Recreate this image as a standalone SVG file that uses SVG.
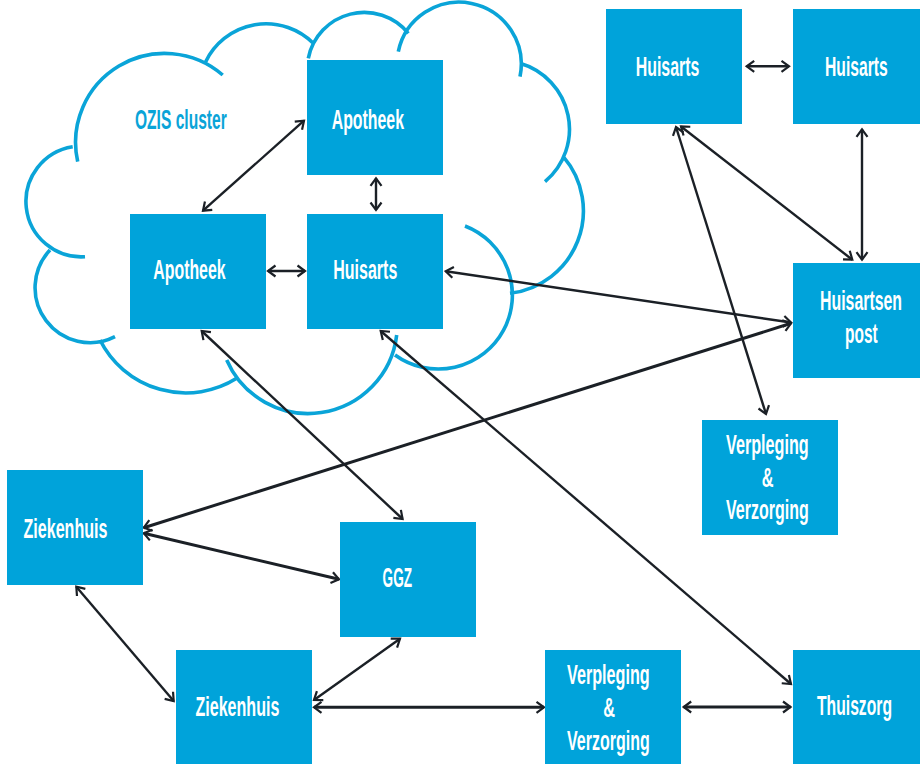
<svg xmlns="http://www.w3.org/2000/svg" width="920" height="764" viewBox="0 0 920 764">
<style>
.box{fill:#00a3da}
.lbl{font-family:"Liberation Sans",Arial,sans-serif;font-weight:bold;font-size:28px;fill:#ffffff}
.cl{fill:none;stroke:#0aa4d8;stroke-width:3.6;stroke-linecap:butt}
.cn{fill:none;stroke:#1b2026;stroke-width:2.4;marker-start:url(#ah);marker-end:url(#ah)}
.tk{stroke-width:3}
</style>
<defs>
<marker id="ah" markerUnits="userSpaceOnUse" viewBox="-10 -8 14 16" markerWidth="14" markerHeight="16" refX="0" refY="0" orient="auto-start-reverse" overflow="visible">
<path d="M-7.5,-5.5 L0,0 L-7.5,5.5" fill="none" stroke="#1b2026" stroke-width="2.2"/>
</marker>
</defs>
<rect width="920" height="764" fill="#ffffff"/>
<g id="cloud">
<path class="cl" d="M77.7,161.7 A89,89 0 0 1 222.7,75 M205.7,61.7 A67,67 0 0 1 313.3,43.3 M308.3,58.3 A57,57 0 0 1 408.3,33.3 M398.3,51.7 A62,62 0 0 1 520,76.7 M520,63.3 A68.6,68.6 0 0 1 545,181.7 M563.3,156.7 A83,83 0 0 1 510,293.3 M465,226 A74,74 0 1 1 395,355 M396.7,335 A89,89 0 0 1 226.7,360 M236.7,378.3 A96,96 0 0 1 100,340 M50,250 A55,55 0 0 0 115,336.7 M72.7,146.7 A55.4,55.4 0 0 0 85,256.7"/>
<text x="135" y="129" textLength="91.7" lengthAdjust="spacingAndGlyphs" class="lbl" style="fill:#0aa4d8">OZIS cluster</text>
</g>
<g id="connectors">
<line class="cn" x1="304" y1="120.7" x2="203" y2="210.7"/>
<line class="cn" x1="376" y1="178.3" x2="376" y2="210"/>
<line class="cn" x1="268" y1="271" x2="305" y2="271"/>
<line class="cn" x1="445.7" y1="271.3" x2="791" y2="322.5"/>
<line class="cn tk" x1="143.8" y1="527.7" x2="791" y2="323.3"/>
<line class="cn" x1="201.7" y1="331" x2="402.6" y2="519"/>
<line class="cn" x1="380.7" y1="331" x2="791" y2="684"/>
<line class="cn" x1="746.7" y1="66.3" x2="789" y2="66.3"/>
<line class="cn" x1="862" y1="129.3" x2="862" y2="259.7"/>
<line class="cn" x1="681" y1="126.5" x2="852.3" y2="259.7"/>
<line class="cn" x1="676" y1="127" x2="766" y2="414"/>
<line class="cn tk" x1="143.8" y1="533.3" x2="339" y2="579.3"/>
<line class="cn" x1="76.3" y1="586.7" x2="173.7" y2="701"/>
<line class="cn" x1="400" y1="638.7" x2="314" y2="700"/>
<line class="cn tk" x1="314" y1="707.3" x2="544" y2="707.3"/>
<line class="cn tk" x1="683.7" y1="707" x2="790.5" y2="707"/>
</g>
<g id="apotheek-top">
<rect class="box" x="307" y="60" width="136" height="115"/>
<text class="lbl" x="331.7" y="129" textLength="72.3" lengthAdjust="spacingAndGlyphs">Apotheek</text>
</g>
<g id="apotheek-left">
<rect class="box" x="130" y="214" width="136" height="115"/>
<text class="lbl" x="153.3" y="279" textLength="72.3" lengthAdjust="spacingAndGlyphs">Apotheek</text>
</g>
<g id="huisarts-cloud">
<rect class="box" x="307" y="214" width="136" height="115"/>
<text class="lbl" x="333.3" y="279" textLength="64" lengthAdjust="spacingAndGlyphs">Huisarts</text>
</g>
<g id="huisarts-1">
<rect class="box" x="606" y="9" width="136" height="115"/>
<text class="lbl" x="635.7" y="76" textLength="63.6" lengthAdjust="spacingAndGlyphs">Huisarts</text>
</g>
<g id="huisarts-2">
<rect class="box" x="793" y="9" width="127" height="115"/>
<text class="lbl" x="825" y="76" textLength="62.7" lengthAdjust="spacingAndGlyphs">Huisarts</text>
</g>
<g id="huisartsenpost">
<rect class="box" x="793" y="263" width="127" height="115"/>
<text class="lbl" x="820" y="310" textLength="82" lengthAdjust="spacingAndGlyphs">Huisartsen</text>
<text class="lbl" x="845" y="343.3" textLength="32.7" lengthAdjust="spacingAndGlyphs">post</text>
</g>
<g id="vv-right">
<rect class="box" x="702" y="420" width="136" height="115"/>
<text class="lbl" x="726" y="453.5" textLength="82.7" lengthAdjust="spacingAndGlyphs">Verpleging</text>
<text class="lbl" x="761.7" y="487.3" textLength="11.8" lengthAdjust="spacingAndGlyphs">&amp;</text>
<text class="lbl" x="726" y="518.5" textLength="82.7" lengthAdjust="spacingAndGlyphs">Verzorging</text>
</g>
<g id="ziekenhuis-left">
<rect class="box" x="7" y="470" width="136" height="115"/>
<text class="lbl" x="23.5" y="538" textLength="84" lengthAdjust="spacingAndGlyphs">Ziekenhuis</text>
</g>
<g id="ggz">
<rect class="box" x="340" y="522" width="136" height="115"/>
<text class="lbl" x="382.6" y="587" textLength="29.4" lengthAdjust="spacingAndGlyphs">GGZ</text>
</g>
<g id="ziekenhuis-bottom">
<rect class="box" x="176" y="650" width="136" height="114"/>
<text class="lbl" x="195.4" y="716" textLength="84" lengthAdjust="spacingAndGlyphs">Ziekenhuis</text>
</g>
<g id="vv-bottom">
<rect class="box" x="545" y="650" width="136" height="114"/>
<text class="lbl" x="567" y="684" textLength="82.7" lengthAdjust="spacingAndGlyphs">Verpleging</text>
<text class="lbl" x="603.3" y="717" textLength="11.8" lengthAdjust="spacingAndGlyphs">&amp;</text>
<text class="lbl" x="567" y="750" textLength="82.7" lengthAdjust="spacingAndGlyphs">Verzorging</text>
</g>
<g id="thuiszorg">
<rect class="box" x="793" y="650" width="127" height="114"/>
<text class="lbl" x="817" y="715" textLength="75" lengthAdjust="spacingAndGlyphs">Thuiszorg</text>
</g>
</svg>
